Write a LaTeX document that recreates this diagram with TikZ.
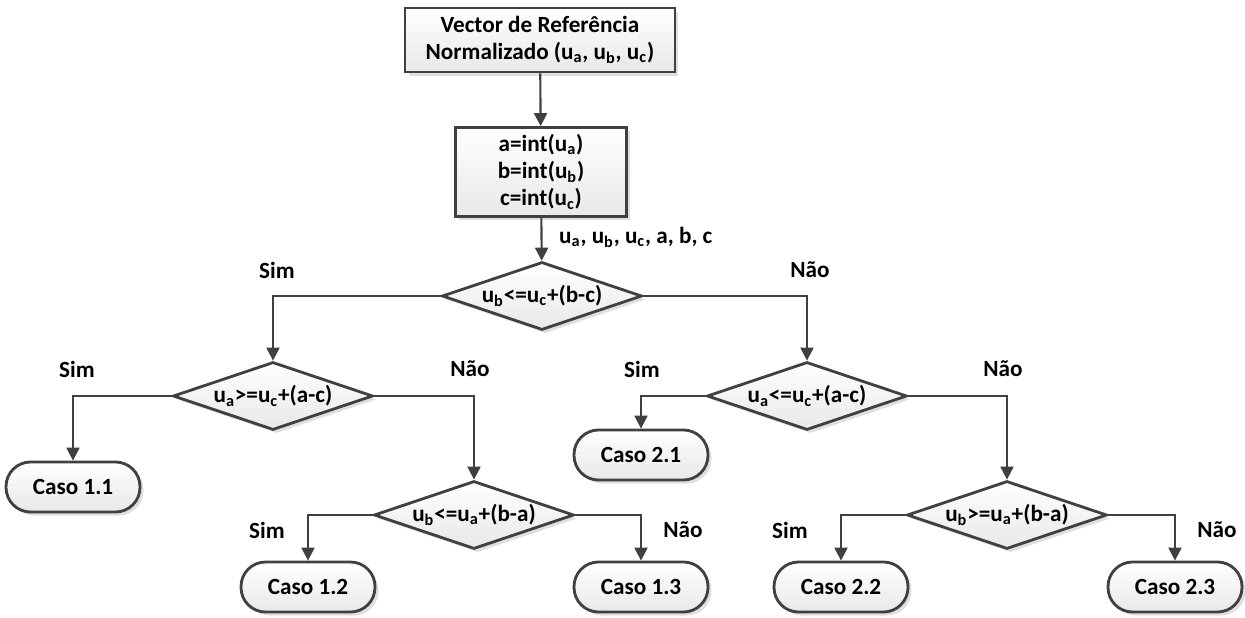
\documentclass[tikz,border=0pt]{standalone}
\usepackage{fontspec}
\setmainfont{Carlito}
\usetikzlibrary{arrows.meta, positioning, shapes.geometric, shadows}
\newcommand{\ix}[1]{\textsubscript{#1}}
\definecolor{linegray}{HTML}{404040}
\tikzset{
  block/.style={draw=linegray, line width=1.6pt, align=center, top color=white, bottom color=black!9,
    drop shadow={opacity=0.25, shadow xshift=2pt, shadow yshift=-2pt}},
  decision/.style={diamond, draw=linegray, line width=1.6pt, align=center, inner sep=0pt, shape aspect=2.9,
    minimum width=4cm, minimum height=1.36cm, top color=white, bottom color=black!9,
    drop shadow={opacity=0.25, shadow xshift=2pt, shadow yshift=-2pt}},
  terminal/.style={draw=linegray, line width=1.6pt, rounded corners=0.49cm, minimum width=2.68cm, minimum height=1cm,
    top color=white, bottom color=black!9, drop shadow={opacity=0.25, shadow xshift=2pt, shadow yshift=-2pt}},
  arrow/.style={-{Triangle[length=0.26cm, width=0.26cm]}, line width=1.2pt, draw=linegray},
  note/.style={font=\fontsize{13.2}{15.4}\selectfont\bfseries},
  every node/.style={font=\fontsize{13.2}{15.4}\selectfont\bfseries}
}
\begin{document}
\begin{tikzpicture}[x=0.02cm, y=-0.02cm]
    \useasboundingbox (0,0) rectangle (1245,618);
    \node[block, minimum width=5.4cm, minimum height=1.28cm] (ref) at (540,40) {Vector de Referência\\Normalizado (u\ix{a}, u\ix{b}, u\ix{c})};
    \node[block, minimum width=3.42cm, minimum height=1.78cm] (ints) at (541,172) {a=int(u\ix{a})\\b=int(u\ix{b})\\c=int(u\ix{c})};
    \node[note, anchor=west] (vars) at (553,237) {u\ix{a}, u\ix{b}, u\ix{c}, a, b, c};

    \node[decision] (d1) at (542,296) {u\ix{b}<=u\ix{c}+(b-c)};
    \node[decision] (d2) at (273,396) {u\ix{a}>=u\ix{c}+(a-c)};
    \node[decision] (d4) at (807,396) {u\ix{a}<=u\ix{c}+(a-c)};
    \node[decision] (d3) at (474,515) {u\ix{b}<=u\ix{a}+(b-a)};
    \node[decision] (d5) at (1007,515) {u\ix{b}>=u\ix{a}+(b-a)};

    \node[terminal] (c11) at (73,487) {Caso 1.1};
    \node[terminal] (c21) at (641,455) {Caso 2.1};
    \node[terminal] (c12) at (308,587) {Caso 1.2};
    \node[terminal] (c13) at (641,587) {Caso 1.3};
    \node[terminal] (c22) at (841,587) {Caso 2.2};
    \node[terminal] (c23) at (1175,587) {Caso 2.3};

    \node[note] (s1) at (277,270) {Sim};
    \node[note] (n1) at (810,270) {Não};
    \node[note] (s2) at (77,369) {Sim};
    \node[note] (n2) at (470,369) {Não};
    \node[note] (s4) at (642,369) {Sim};
    \node[note] (n4) at (1003,369) {Não};
    \node[note] (s3) at (267,530) {Sim};
    \node[note] (n3) at (683,530) {Não};
    \node[note] (s5) at (790,530) {Sim};
    \node[note] (n5) at (1217,530) {Não};

    \draw[arrow] (ref) -- (ints);
    \draw[arrow] (ints) -- (d1);
    \draw[arrow] (d1.west) -| (d2.north);
    \draw[arrow] (d1.east) -| (d4.north);
    \draw[arrow] (d2.west) -| (c11.north);
    \draw[arrow] (d2.east) -| (d3.north);
    \draw[arrow] (d4.west) -| (c21.north);
    \draw[arrow] (d4.east) -| (d5.north);
    \draw[arrow] (d3.west) -| (c12.north);
    \draw[arrow] (d3.east) -| (c13.north);
    \draw[arrow] (d5.west) -| (c22.north);
    \draw[arrow] (d5.east) -| (c23.north);
\end{tikzpicture}
\end{document}
